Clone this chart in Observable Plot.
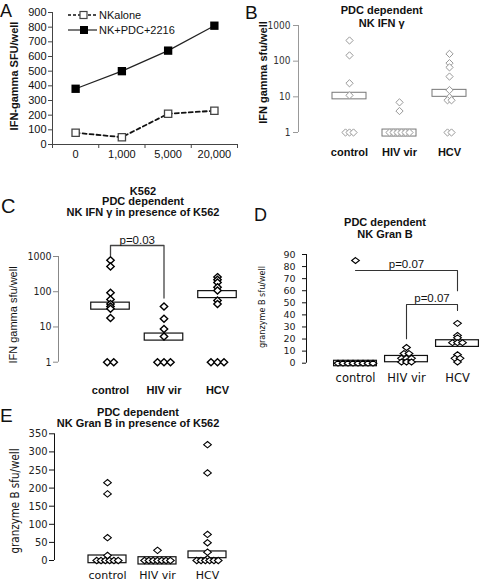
<!DOCTYPE html>
<html><head><meta charset="utf-8">
<script src="https://cdn.jsdelivr.net/npm/d3@7"></script>
<script src="https://cdn.jsdelivr.net/npm/@observablehq/plot@0.6"></script>
<style>
body{margin:0;background:#fff;}
#fig{position:relative;width:480px;height:582px;overflow:hidden;background:#fff;}
#fig svg{position:absolute;left:0;top:0;overflow:visible;}
</style></head>
<body><div id="fig"></div>
<script>
// ---------- DATA ----------
// Panel A
const doses = ["0", "1,000", "5,000", "20,000"];
const nkAlone = [80, 50, 210, 230];
const nkPdc = [380, 500, 640, 810];
const aTicks = [0, 100, 200, 300, 400, 500, 600, 700, 800, 900];
const aSeries = ["NKalone", "NK+PDC+2216"];

// shared categories
const groups = ["control", "HIV vir", "HCV"];
const logTicks = [1, 10, 100, 1000];

// Panel B  (PDC dependent NK IFN gamma)
const bControl = [380, 145, 24, 11, 1, 1, 1];
const bHiv = [7, 4, 1, 1, 1, 1, 1, 1];
const bHcv = [160, 88, 67, 37, 15.5, 9.7, 8, 8, 1, 1];
const bBoxLo = [8.5, 0.77, 10];
const bBoxHi = [13, 1.21, 15.7];

// Panel C  (in presence of K562)
const cControl = [780, 520, 94, 60, 45, 38, 33, 18, 1, 1];
const cHiv = [38, 17, 8.8, 5.4, 1, 1, 1];
const cHcv = [260, 220, 184, 135, 108, 56, 45, 1, 1, 1];
const cBoxLo = [31, 4.1, 66];
const cBoxHi = [49, 6.5, 104];
const cBrackets = [{from: "control", to: "HIV vir", top: 2050, leftEnd: 1075, rightEnd: 66, label: "p=0.03"}];

// Panel D  (NK Gran B)
const dTicks = [0, 10, 20, 30, 40, 50, 60, 70, 80, 90];
const dControl = [85, 0, 0, 0, 0, 0, 0, 0, 0];
const dHiv = [13, 8, 8, 4, 4, 4, 1, 1, 1];
const dHcv = [33, 23, 21, 17, 17, 17, 7, 4, 4, 1];
const dBoxLo = [-2.5, 0.8, 13.5];
const dBoxHi = [2, 6, 19];
const dBrackets = [
  {from: "control", to: "HCV", top: 76.7, leftEnd: 76.7, rightEnd: 60, label: "p=0.07"},
  {from: "HIV vir", to: "HCV", top: 48.6, leftEnd: 20.2, rightEnd: 43.6, label: "p=0.07"}
];

// Panel E  (NK Gran B in presence of K562)
const eTicks = [0, 50, 100, 150, 200, 250, 300, 350];
const eControl = [215, 184, 63, 14, 0, 0, 0, 0, 0, 0];
const eHiv = [28, 0, 0, 0, 0, 0, 0, 0];
const eHcv = [320, 242, 72, 49, 23, 5, 0, 0, 0, 0, 0, 0];
const eBoxLo = [-7.4, -11, 6.4];
const eBoxHi = [13.8, 9, 25];

// ---------- HELPERS ----------
const W = 480, H = 582;
const FONT = '"Liberation Sans", Arial, sans-serif';
const NARROW = '"Liberation Sans Narrow", "DejaVu Sans Condensed", "Liberation Sans", sans-serif';
const DEJAVU = '"DejaVu Sans", sans-serif';
const baseStyle = {fontFamily: FONT, fontSize: "11px", background: "transparent", overflow: "visible"};

function makeDiamond(aspect) {
  return {draw(ctx, size) {
    const h = Math.sqrt(size / Math.PI) * 1.1, w = h * aspect;
    ctx.moveTo(0, -h); ctx.lineTo(w, 0); ctx.lineTo(0, h); ctx.lineTo(-w, 0); ctx.closePath();
  }};
}
// spread tied values side by side around their category position
function spread(series, stepPx, unitPx) {
  const out = [];
  series.forEach((vals, gi) => {
    const counts = d3.rollup(vals, v => v.length, d => d);
    const seen = new Map();
    for (const v of vals) {
      const n = counts.get(v), k = seen.get(v) || 0;
      seen.set(v, k + 1);
      out.push({group: groups[gi], x: gi + (k - (n - 1) / 2) * stepPx / unitPx, y: v});
    }
  });
  return out;
}
function boxes(lo, hi, half) {
  return lo.map((l, i) => ({group: groups[i], x1: i - half, x2: i + half, y1: l, y2: hi[i]}));
}
function bracketPts(list) {
  return list.flatMap((b, k) => {
    const a = groups.indexOf(b.from), c = groups.indexOf(b.to);
    return [{k, x: a, y: b.leftEnd}, {k, x: a, y: b.top}, {k, x: c, y: b.top}, {k, x: c, y: b.rightEnd}];
  });
}
function bracketLabels(list) {
  return list.map(b => ({x: (groups.indexOf(b.from) + groups.indexOf(b.to)) / 2, y: b.top, label: b.label}));
}
const xAt = (px, r) => (px - r[0]) / (r[1] - r[0]) * 2;
const fig = document.getElementById("fig");

// ---------- PANEL A ----------
const aRows = doses.map((d, i) => ({dose: d, pos: i + 0.5, alone: nkAlone[i], pdc: nkPdc[i]}));
fig.appendChild(Plot.plot({
  width: W, height: H, marginLeft: 52, marginRight: 243, marginTop: 12, marginBottom: 438,
  style: baseStyle,
  x: {domain: [0, 4]}, y: {domain: [0, 900]},
  marks: [
    Plot.ruleX([0], {y1: 0, y2: 900, stroke: "#444"}),
    Plot.ruleY([0], {x1: 0, x2: 4, stroke: "#444"}),
    Plot.axisY({ticks: aTicks, tickSize: 4, tickPadding: 2, fontSize: 11, label: null, stroke: "#444", color: "#111"}),
    Plot.axisX({ticks: [0, 1, 2, 3, 4], tickFormat: () => "", tickSize: 4, label: null, stroke: "#444"}),
    Plot.axisX({ticks: aRows.map(d => d.pos), tickFormat: d => doses[Math.floor(d)], tickSize: 0, tickPadding: 6, fontSize: 11, label: null, color: "#111"}),
    Plot.line(aRows, {x: "pos", y: "alone", stroke: "#111", strokeWidth: 1.8, strokeDasharray: "4,3"}),
    Plot.line(aRows, {x: "pos", y: "pdc", stroke: "#222", strokeWidth: 1.2}),
    Plot.dot(aRows, {x: "pos", y: "alone", symbol: "square", r: 4.1, fill: "white", stroke: "#444", strokeWidth: 1.3}),
    Plot.dot(aRows, {x: "pos", y: "pdc", symbol: "square", r: 4.7, fill: "black"})
  ]
}));

// ---------- PANEL B ----------
const bX = [349, 449];
fig.appendChild(Plot.plot({
  width: W, height: H, marginLeft: 298, marginRight: 0, marginTop: 25, marginBottom: 450,
  style: baseStyle,
  x: {domain: [0, 2], range: bX},
  y: {type: "log", domain: [1, 1000]},
  marks: [
    Plot.ruleX([xAt(298, bX)], {y1: 1, y2: 1000, stroke: "#999"}),
    Plot.axisY({ticks: logTicks, tickFormat: d => String(d), tickSize: 5, tickPadding: 3, stroke: "#999", color: "#333", fontFamily: NARROW, fontSize: 10, label: null}),
    Plot.axisX({ticks: [0, 1, 2], tickFormat: d => groups[d], tickSize: 0, tickPadding: 16, fontWeight: "bold", fontSize: 11, label: null, color: "#111"}),
    Plot.rect(boxes(bBoxLo, bBoxHi, 0.34), {x1: "x1", x2: "x2", y1: "y1", y2: "y2", fill: "white", stroke: "#777"}),
    Plot.dot(spread([bControl, bHiv, bHcv], 4, 50), {x: "x", y: "y", symbol: makeDiamond(1), r: 3.3, stroke: "#999", fill: "white", strokeWidth: 1})
  ]
}));

// ---------- PANEL C ----------
const cX = [110, 217];
fig.appendChild(Plot.plot({
  width: W, height: H, marginLeft: 58, marginRight: 240, marginTop: 256, marginBottom: 220.3,
  style: baseStyle,
  x: {domain: [0, 2], range: cX},
  y: {type: "log", domain: [1, 1000]},
  marks: [
    Plot.ruleX([xAt(58, cX)], {y1: 1, y2: 1000, stroke: "#888"}),
    Plot.axisY({ticks: logTicks, tickFormat: d => String(d), tickSize: 5, tickPadding: 2, stroke: "#888", color: "#222", fontFamily: NARROW, fontSize: 10.5, label: null}),
    Plot.axisX({ticks: [0, 1, 2], tickFormat: d => groups[d], tickSize: 0, tickPadding: 24, fontWeight: "bold", fontSize: 11, label: null, color: "#111"}),
    Plot.line(bracketPts(cBrackets), {x: "x", y: "y", z: "k", stroke: "#444", strokeWidth: 1.3}),
    Plot.text(bracketLabels(cBrackets), {x: "x", y: "y", text: "label", dy: -5, fontSize: 11.5, fill: "#111"}),
    Plot.rect(boxes(cBoxLo, cBoxHi, 0.36), {x1: "x1", x2: "x2", y1: "y1", y2: "y2", fill: "white", stroke: "#111", strokeWidth: 1.2}),
    Plot.dot(spread([cControl, cHiv, cHcv], 6.5, 53.5), {x: "x", y: "y", symbol: makeDiamond(1.05), r: 3.2, stroke: "#000", fill: "white", strokeWidth: 1.4})
  ]
}));

// ---------- PANEL D ----------
const dX = [355, 457];
fig.appendChild(Plot.plot({
  width: W, height: H, marginLeft: 306, marginRight: 0, marginTop: 254, marginBottom: 219.3,
  style: baseStyle,
  x: {domain: [0, 2], range: dX},
  y: {domain: [0, 90]},
  marks: [
    Plot.ruleX([xAt(306, dX)], {y1: 0, y2: 90, stroke: "#111"}),
    Plot.axisY({ticks: dTicks, tickSize: 4, tickPadding: 7, stroke: "#111", color: "#222", fontFamily: DEJAVU, fontSize: 9.5, label: null}),
    Plot.axisX({ticks: [0, 1, 2], tickFormat: d => groups[d], tickSize: 0, tickPadding: 10.4, fontFamily: DEJAVU, fontSize: 11.5, label: null, color: "#111"}),
    Plot.line(bracketPts(dBrackets), {x: "x", y: "y", z: "k", stroke: "#333", strokeWidth: 1.1}),
    Plot.text(bracketLabels(dBrackets), {x: "x", y: "y", text: "label", dy: -6, fontSize: 11.5, fill: "#111"}),
    Plot.rect(boxes(dBoxLo, dBoxHi, 0.42), {x1: "x1", x2: "x2", y1: "y1", y2: "y2", fill: "white", stroke: "#111", strokeWidth: 1.2}),
    Plot.dot(spread([dControl, dHiv, dHcv], 5, 51), {x: "x", y: "y", symbol: makeDiamond(1.3), r: 2.7, stroke: "#000", fill: "white", strokeWidth: 1.1})
  ]
}));

// ---------- PANEL E ----------
const eX = [107, 207];
fig.appendChild(Plot.plot({
  width: W, height: H, marginLeft: 54, marginRight: 240, marginTop: 433.3, marginBottom: 22,
  style: baseStyle,
  x: {domain: [0, 2], range: eX},
  y: {domain: [0, 350]},
  marks: [
    Plot.ruleX([xAt(54, eX)], {y1: 0, y2: 350, stroke: "#111"}),
    Plot.axisY({ticks: eTicks, tickSize: 5, tickPadding: 2, stroke: "#111", color: "#222", fontFamily: NARROW, fontSize: 11, label: null}),
    Plot.axisX({ticks: [0, 1, 2], tickFormat: d => groups[d], tickSize: 0, tickPadding: 10.5, fontFamily: DEJAVU, fontSize: 11, label: null, color: "#111"}),
    Plot.rect(boxes(eBoxLo, eBoxHi, 0.38), {x1: "x1", x2: "x2", y1: "y1", y2: "y2", fill: "white", stroke: "#111", strokeWidth: 1.2}),
    Plot.dot(spread([eControl, eHiv, eHcv], 4.3, 50), {x: "x", y: "y", symbol: makeDiamond(1.2), r: 2.9, stroke: "#000", fill: "white", strokeWidth: 1.1})
  ]
}));

// ---------- TEXT OVERLAY: panel letters, titles, axis titles, legend ----------
const ov = d3.select(fig).append("svg").attr("width", W).attr("height", H)
  .style("font-family", FONT);
function txt(s, x, y, o = {}) {
  const t = ov.append("text").attr("x", x).attr("y", y).text(s)
    .attr("font-size", o.size || 11).attr("font-weight", o.weight || "normal")
    .attr("text-anchor", o.anchor || "start").attr("fill", o.fill || "#111");
  if (o.family) t.attr("font-family", o.family);
  if (o.rotate) t.attr("transform", `rotate(-90,${x},${y})`);
  return t;
}
// letters
txt("A", 0, 16.5, {size: 18});
txt("B", 245, 18.5, {size: 19});
txt("C", 1, 213, {size: 20});
txt("D", 254, 220.5, {size: 18});
txt("E", 0, 421.7, {size: 19});
// titles
txt("PDC dependent", 381.7, 13.5, {weight: "bold", anchor: "middle"});
txt("NK IFN γ", 381.7, 27, {weight: "bold", anchor: "middle"});
txt("K562", 143, 194.5, {weight: "bold", anchor: "middle"});
txt("PDC dependent", 143, 205, {weight: "bold", anchor: "middle"});
txt("NK IFN γ in presence of K562", 143, 215.8, {weight: "bold", anchor: "middle"});
txt("PDC dependent", 385, 226.3, {weight: "bold", anchor: "middle"});
txt("NK Gran B", 385, 238, {weight: "bold", anchor: "middle"});
txt("PDC dependent", 138, 415.5, {weight: "bold", anchor: "middle"});
txt("NK Gran B in presence of K562", 138, 426.5, {weight: "bold", anchor: "middle"});
// y-axis titles
txt("IFN-gamma SFU/well", 18, 76, {weight: "bold", anchor: "middle", rotate: true});
txt("IFN gamma sfu/well", 266.5, 72.5, {weight: "bold", anchor: "middle", rotate: true});
txt("IFN gamma sfu/well", 17, 315, {anchor: "middle", rotate: true});
txt("granzyme B sfu/well", 264.5, 307, {anchor: "middle", rotate: true, family: NARROW, size: 9});
txt("granzyme B sfu/well", 18.5, 501, {anchor: "middle", rotate: true, family: NARROW, size: 11.5});
// legend (panel A)
const lg = ov.append("g");
lg.append("line").attr("x1", 68).attr("x2", 97).attr("y1", 15).attr("y2", 15)
  .attr("stroke", "#111").attr("stroke-width", 1.5).attr("stroke-dasharray", "3,2");
lg.append("rect").attr("x", 80).attr("y", 11.5).attr("width", 7).attr("height", 7)
  .attr("fill", "white").attr("stroke", "#444").attr("stroke-width", 1.2);
lg.append("line").attr("x1", 68).attr("x2", 97).attr("y1", 30).attr("y2", 30)
  .attr("stroke", "#222").attr("stroke-width", 1.2);
lg.append("rect").attr("x", 80).attr("y", 26).attr("width", 8).attr("height", 8).attr("fill", "black");
txt(aSeries[0], 99, 18.5, {size: 11});
txt(aSeries[1], 99, 33.5, {size: 11});
</script>
</body></html>
